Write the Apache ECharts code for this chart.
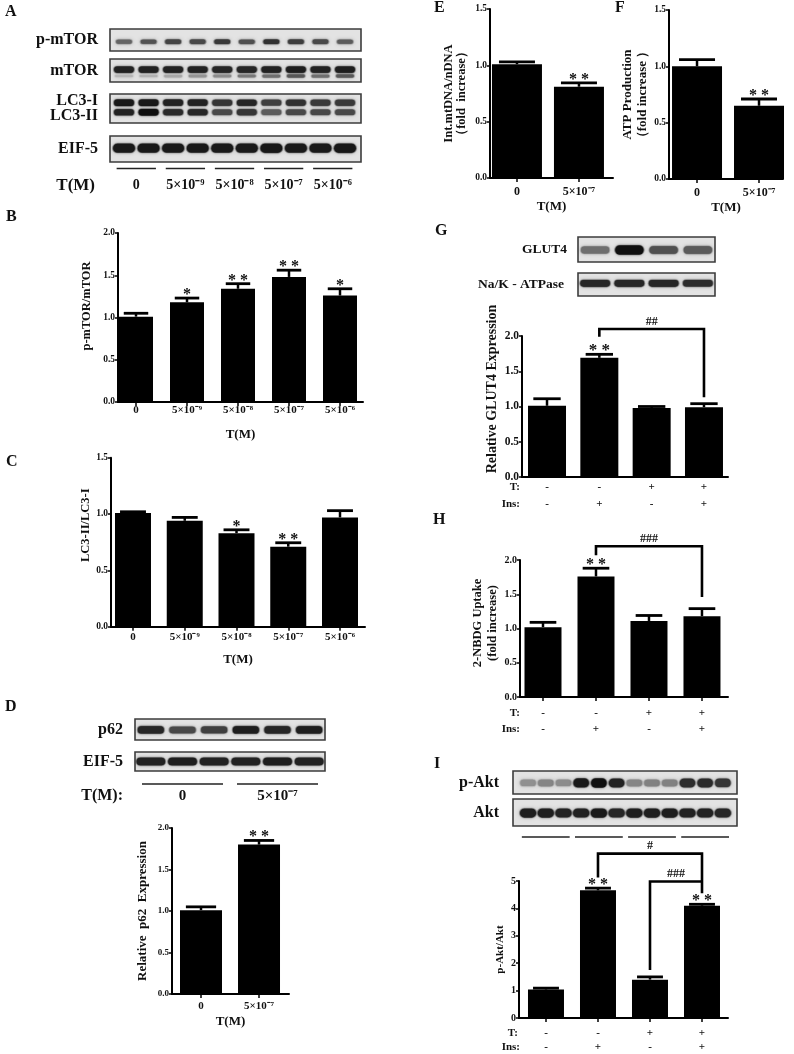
<!DOCTYPE html>
<html><head><meta charset="utf-8">
<script src="https://cdn.jsdelivr.net/npm/echarts@6/dist/echarts.min.js"></script>
<style>html,body{margin:0;padding:0;background:#fff}#c{width:794px;height:1054px}</style>
</head><body><div id="c"></div>
<script>
const FONT = "'Liberation Serif','Times New Roman',serif";
const INK = '#111';

// ---------- data ----------
const doseLabels = ['0','5×10⁻⁹','5×10⁻⁸','5×10⁻⁷','5×10⁻⁶'];
const twoDoseLabels = ['0','5×10⁻⁷'];
const pmtorMean = [1.01,1.18,1.34,1.48,1.26];
const pmtorSem  = [0.04,0.05,0.06,0.08,0.08];
const pmtorSig  = ['','*','**','**','*'];
const lc3Mean = [1.01,0.94,0.83,0.71,0.97];
const lc3Sem  = [0.01,0.03,0.03,0.035,0.06];
const lc3Sig  = ['','','*','**',''];
const p62Mean = [1.01,1.80];
const p62Sem  = [0.04,0.05];
const p62Sig  = ['','**'];
const mtdnaMean = [1.01,0.81];
const mtdnaSem  = [0.02,0.035];
const mtdnaSig  = ['','**'];
const atpMean = [1.00,0.65];
const atpSem  = [0.06,0.06];
const atpSig  = ['','**'];
const tRow   = ['-','-','+','+'];
const insRow = ['-','+','-','+'];
const glut4Mean = [1.01,1.69,0.98,0.99];
const glut4Sem  = [0.10,0.05,0.02,0.05];
const glut4Sig  = ['','**','',''];
const nbdgMean = [1.02,1.76,1.11,1.18];
const nbdgSem  = [0.07,0.12,0.08,0.11];
const nbdgSig  = ['','**','',''];
const aktMean = [1.04,4.66,1.40,4.10];
const aktSem  = [0.05,0.08,0.10,0.05];
const aktSig  = ['','**','','**'];
// brackets: [fromIndex, toIndex, yTop, yLeftEnd, yRightEnd]
const glut4Brackets = [[1,3,2.10,1.99,1.13]];
const glut4BracketLabels = ['##'];
const nbdgBrackets = [[1,3,2.20,2.07,1.46]];
const nbdgBracketLabels = ['###'];
const aktBrackets = [[1,3,6.0,5.13,4.55],[2,3,4.98,1.75,4.98]];
const aktBracketLabels = ['#','###'];
// blot band intensities (0..1) per lane
const pmtorBands   = [0.55,0.65,0.72,0.70,0.78,0.66,0.82,0.76,0.70,0.60];
const mtorBands    = [0.90,0.90,0.90,0.90,0.88,0.88,0.90,0.92,0.90,0.92];
const mtorLowBands = [0.12,0.15,0.20,0.30,0.35,0.45,0.50,0.62,0.50,0.62];
const lc3iBands    = [0.95,0.95,0.90,0.90,0.80,0.88,0.75,0.82,0.78,0.78];
const lc3iiBands   = [0.90,1.00,0.86,0.88,0.70,0.80,0.60,0.70,0.70,0.70];
const eif5aBands   = [0.95,0.95,0.95,0.95,0.94,0.94,0.96,0.95,0.95,0.96];
const p62Bands     = [0.88,0.70,0.75,0.92,0.88,0.92];
const eif5dBands   = [0.90,0.92,0.90,0.90,0.92,0.90];
const glut4Bands   = [0.50,1.00,0.66,0.60];
const nakBands     = [0.88,0.88,0.88,0.85];
const pAktBands    = [0.32,0.38,0.34,0.95,1.00,0.90,0.38,0.40,0.40,0.85,0.86,0.80];
const aktBands     = [0.92,0.92,0.90,0.90,0.94,0.88,0.92,0.92,0.92,0.90,0.90,0.88];

// ---------- builders ----------
const grids=[], xAxis=[], yAxis=[], series=[], graphic=[];
function newGrid(g, xa, ya){
  grids.push(g); const i = grids.length-1;
  xa.gridIndex = i; ya.gridIndex = i; xAxis.push(xa); yAxis.push(ya); return i;
}
const fnt = (w,s)=> w+' '+s+'px '+FONT;

function blot(box, lanes, labels, rows, labelSize, labelMargin){
  const gi = newGrid({left:box[0], top:box[1], width:box[2], height:box[3], show:true,
      backgroundColor:'#e3e3e3', borderColor:'#3c3c3c', borderWidth:1.6},
    {type:'value', min:lanes[0], max:lanes[1], show:false},
    {type:'category', data:labels, axisLine:{show:false}, axisTick:{show:false}, splitLine:{show:false},
      axisLabel:{interval:0, margin:labelMargin, color:INK, fontFamily:FONT, fontWeight:'bold', fontSize:labelSize}});
  rows.forEach(r=>{
    series.push({type:'custom', xAxisIndex:gi, yAxisIndex:gi, silent:true, clip:false, encode:{x:0,y:1},
      data: r.values.map((v,i)=>[i,0,v]),
      renderItem(params, api){
        const cs = params.coordSys;
        const x = api.coord([api.value(0),0])[0];
        const v = api.value(2);
        const lw = api.size([1,0])[0];
        const w = lw*r.wf, h = r.h*(0.55+0.45*v);
        const y = cs.y + cs.height*r.frac;
        const g = Math.round(205-190*v);
        const c = 'rgb('+g+','+g+','+g+')';
        return {type:'group', children:[
          {type:'rect', shape:{x:x-w/2-1, y:y-h/2-0.5, width:w+2, height:h+1, r:(h+1)/2},
            style:{fill:'rgba('+g+','+g+','+g+',0.35)', shadowBlur:4, shadowColor:'rgba(60,60,60,0.5)'}},
          {type:'rect', shape:{x:x-w/2, y:y-h/2, width:w, height:h, r:h/2},
            style:{fill:c, shadowBlur:2, shadowColor:c}}
        ]};
      }});
  });
}

function laneGroups(box, lanes, perGroup, groups, groupLabels, rowLabel, fontSize, rowFont, labelMargin, ext){
  const cats = groupLabels ? ['', rowLabel] : [''];
  const gi = newGrid({left:box[0], top:box[1], width:box[2], height:box[3]},
    {type:'value', min:lanes[0], max:lanes[1], show:false},
    {type:'category', inverse:true, data:cats, axisLine:{show:false}, axisTick:{show:false}, splitLine:{show:false},
      axisLabel:{interval:0, margin:labelMargin, color:INK, fontFamily:FONT, fontWeight:'bold', fontSize:rowFont}});
  series.push({type:'custom', xAxisIndex:gi, yAxisIndex:gi, silent:true, clip:false, encode:{x:0,y:1},
    data: groups.map((g,i)=>[i,0]),
    renderItem(params, api){
      const k = api.value(0);
      const a = k*perGroup-ext, b = k*perGroup+perGroup-1+ext;
      const p1 = api.coord([a,0]), p2 = api.coord([b,0]);
      const ch = [{type:'line', shape:{x1:p1[0],y1:p1[1],x2:p2[0],y2:p2[1]}, style:{stroke:'#222', lineWidth:1.3}}];
      if (groupLabels){
        const pc = api.coord([k*perGroup+(perGroup-1)/2, 1]);
        ch.push({type:'text', style:{text:groupLabels[k], x:pc[0], y:pc[1], align:'center', verticalAlign:'middle',
          textAlign:'center', textVerticalAlign:'middle', font:fnt('bold',fontSize), fill:INK}});
      }
      return {type:'group', children:ch};
    }});
}

function barPanel(o){
  const idx = o.mean.map((m,i)=>i);
  const gi = newGrid({left:o.L, top:o.T, width:o.R-o.L, height:o.B-o.T},
    {type:'value', min:o.xmin, max:o.xmax, splitLine:{show:false},
      axisLine:{show:true, onZero:false, lineStyle:{color:'#000', width:2}},
      axisTick:{show:o.xTicks!==false, customValues:idx, length:4, lineStyle:{color:'#000', width:1.5}},
      axisLabel:{customValues:idx, formatter:o.xfmt, margin:o.xMargin, fontFamily:FONT, fontWeight:'bold',
        fontSize:o.xFont, color:INK, lineHeight:o.xLineH||undefined},
      name:o.xName||'', nameLocation:'middle', nameGap:o.xNameGap||20,
      nameTextStyle:{fontFamily:FONT, fontWeight:'bold', fontSize:o.xNameSize||13, color:INK}},
    {type:'value', min:0, max:o.ymax, interval:o.yint, splitLine:{show:false},
      axisLine:{show:true, onZero:false, lineStyle:{color:'#000', width:2}},
      axisTick:{show:true, length:3, lineStyle:{color:'#000', width:1.5}},
      axisLabel:{formatter:o.yfmt, margin:3, fontFamily:FONT, fontWeight:'bold', fontSize:o.yFont, color:INK},
      name:o.yName, nameLocation:'middle', nameRotate:90, nameGap:o.yNameGap,
      nameTextStyle:{fontFamily:FONT, fontWeight:'bold', fontSize:o.yNameSize, color:INK,
        lineHeight:o.yNameLH||undefined, padding:[0,0,0,o.yNamePad||0]}});
  series.push({type:'bar', xAxisIndex:gi, yAxisIndex:gi, silent:true, barWidth:o.barW,
    data:o.mean.map((m,i)=>[i,m]), itemStyle:{color:'#000'}, z:2});
  const capW = o.barW*0.72, starSize = o.starSize||16;
  series.push({type:'custom', xAxisIndex:gi, yAxisIndex:gi, silent:true, clip:false, z:3,
    data:o.mean.map((m,i)=>[i,m,m+o.sem[i]]),
    renderItem(params, api){
      const p0 = api.coord([api.value(0), api.value(1)]), p1 = api.coord([api.value(0), api.value(2)]);
      const ch = [
        {type:'line', shape:{x1:p0[0],y1:p0[1],x2:p1[0],y2:p1[1]}, style:{stroke:'#000', lineWidth:2.5}},
        {type:'line', shape:{x1:p1[0]-capW/2,y1:p1[1],x2:p1[0]+capW/2,y2:p1[1]}, style:{stroke:'#000', lineWidth:2.8}}
      ];
      const s = o.sig[params.dataIndex];
      if (s) ch.push({type:'text', style:{text:s.split('').join(' '), x:p1[0], y:p1[1]+0.3*starSize,
        align:'center', verticalAlign:'bottom', textAlign:'center', textVerticalAlign:'bottom',
        font:fnt('bold',starSize), fill:INK}});
      return {type:'group', children:ch};
    }});
  if (o.brackets){
    series.push({type:'custom', xAxisIndex:gi, yAxisIndex:gi, silent:true, clip:false, z:4,
      data:o.brackets,
      renderItem(params, api){
        const a=api.value(0), b=api.value(1), top=api.value(2), le=api.value(3), re=api.value(4);
        const pTL=api.coord([a,top]), pTR=api.coord([b,top]), pL=api.coord([a,le]), pR=api.coord([b,re]);
        return {type:'group', children:[
          {type:'polyline', shape:{points:[pL,pTL,pTR,pR]}, style:{stroke:'#000', lineWidth:2.6, fill:null}},
          {type:'text', style:{text:o.bracketLabels[params.dataIndex], x:(pTL[0]+pTR[0])/2, y:pTL[1]-1.5,
            align:'center', verticalAlign:'bottom', textAlign:'center', textVerticalAlign:'bottom',
            font:fnt('bold',12), fill:INK}}
        ]};
      }});
  }
}
const f1 = v=>v.toFixed(1);
const f0 = v=>String(Math.round(v));
const doseFmt = v=>doseLabels[Math.round(v)];
const twoFmt = v=>twoDoseLabels[Math.round(v)];
const trtFmt = v=>tRow[Math.round(v)]+'\n'+insRow[Math.round(v)];

// ---------- panel A ----------
const laneA = [-0.57, 9.65];
blot([110,29,251,22], laneA, ['p-mTOR'], [{values:pmtorBands, frac:0.58, h:5, wf:0.64}], 16, 12);
blot([110,59,251,23], laneA, ['mTOR'], [{values:mtorBands, frac:0.46, h:6.5, wf:0.8},{values:mtorLowBands, frac:0.74, h:3.5, wf:0.72}], 16, 12);
blot([110,94,251,29], laneA, ['LC3-II','LC3-I'], [{values:lc3iBands, frac:0.3, h:6.5, wf:0.8},{values:lc3iiBands, frac:0.63, h:6.5, wf:0.8}], 16, 12);
blot([110,136,251,26], laneA, ['EIF-5'], [{values:eif5aBands, frac:0.47, h:9, wf:0.88}], 16, 12);
laneGroups([110,160,251,34], laneA, 2, doseLabels, doseLabels, 'T(M)', 14, 17, 15, 0.3);

// ---------- panel B ----------
barPanel({L:118,R:363,T:233,B:402, xmin:-0.353, xmax:4.451, ymax:2, yint:0.5, barW:34,
  mean:pmtorMean, sem:pmtorSem, sig:pmtorSig, xfmt:doseFmt, xFont:11, xMargin:3, xName:'T(M)', xNameGap:26,
  yfmt:f1, yFont:9.5, yName:'p-mTOR/mTOR', yNameSize:12.5, yNameGap:25, yNamePad:23});
// ---------- panel C ----------
barPanel({L:111,R:365,T:457.7,B:626.7, xmin:-0.425, xmax:4.483, ymax:1.5, yint:0.5, barW:36,
  mean:lc3Mean, sem:lc3Sem, sig:lc3Sig, xfmt:doseFmt, xFont:11, xMargin:5, xName:'T(M)', xNameGap:26,
  yfmt:f1, yFont:9.5, yName:'LC3-II/LC3-I', yNameSize:12.5, yNameGap:14, yNamePad:34});
// ---------- panel D ----------
const laneD = [-0.5, 5.5];
blot([135,719,190,21], laneD, ['p62'], [{values:p62Bands, frac:0.52, h:7.5, wf:0.82}], 16, 12);
blot([135,752,190,19], laneD, ['EIF-5'], [{values:eif5dBands, frac:0.5, h:8, wf:0.9}], 16, 12);
laneGroups([135,778,190,24], laneD, 3, twoDoseLabels, twoDoseLabels, 'T(M):', 15, 16, 12, 0.28);
barPanel({L:172,R:289,T:828,B:994, xmin:-0.5, xmax:1.517, ymax:2, yint:0.5, barW:42,
  mean:p62Mean, sem:p62Sem, sig:p62Sig, xfmt:twoFmt, xFont:11, xMargin:7, xName:'T(M)', xNameGap:21,
  yfmt:f1, yFont:9, yName:'Relative  p62  Expression', yNameSize:13, yNameGap:23});
// ---------- panel E ----------
barPanel({L:490,R:613,T:9,B:178, xmin:-0.435, xmax:1.549, ymax:1.5, yint:0.5, barW:50,
  mean:mtdnaMean, sem:mtdnaSem, sig:mtdnaSig, xfmt:twoFmt, xFont:12, xMargin:8, xName:'T(M)', xNameGap:22,
  yfmt:f1, yFont:9.5, yName:'Int.mtDNA/nDNA\n（fold  increase）', yNameSize:12.5, yNameLH:13, yNameGap:22});
// ---------- panel F ----------
barPanel({L:669,R:783,T:10,B:179, xmin:-0.452, xmax:1.387, ymax:1.5, yint:0.5, barW:50,
  mean:atpMean, sem:atpSem, sig:atpSig, xfmt:twoFmt, xFont:12, xMargin:8, xName:'T(M)', xNameGap:22,
  yfmt:f1, yFont:9.5, yName:'ATP Production\n（fold increase ）', yNameSize:13, yNameLH:15, yNameGap:13});
// ---------- panel G ----------
const laneG = [-0.5, 3.5];
blot([578,237,137,25], laneG, ['GLUT4'], [{values:glut4Bands, frac:0.52, h:9, wf:0.82}], 13.5, 11);
blot([578,273,137,23], laneG, ['Na/K - ATPase'], [{values:nakBands, frac:0.45, h:7, wf:0.86}], 13.5, 14);
barPanel({L:522,R:728,T:336,B:477, xmin:-0.478, xmax:3.459, ymax:2, yint:0.5, barW:38,
  mean:glut4Mean, sem:glut4Sem, sig:glut4Sig, xfmt:trtFmt, xFont:11, xLineH:17, xMargin:2, xTicks:false,
  yfmt:f1, yFont:11.5, yName:'Relative GLUT4 Expression', yNameSize:14, yNameGap:23, yNamePad:35,
  brackets:glut4Brackets, bracketLabels:glut4BracketLabels, starSize:17});
// ---------- panel H ----------
barPanel({L:520,R:728,T:560,B:697, xmin:-0.434, xmax:3.491, ymax:2, yint:0.5, barW:37,
  mean:nbdgMean, sem:nbdgSem, sig:nbdgSig, xfmt:trtFmt, xFont:11, xLineH:16, xMargin:8,
  yfmt:f1, yFont:10, yName:'2-NBDG Uptake\n(fold increase)', yNameSize:12.5, yNameLH:15, yNameGap:19, yNamePad:11,
  brackets:nbdgBrackets, bracketLabels:nbdgBracketLabels});
// ---------- panel I ----------
const laneI = [-0.85, 11.8];
blot([513,771,224,23], laneI, ['p-Akt'], [{values:pAktBands, frac:0.52, h:9, wf:0.86}], 16, 14);
blot([513,799,224,27], laneI, ['Akt'], [{values:aktBands, frac:0.52, h:9, wf:0.9}], 16, 14);
laneGroups([513,832,224,10], laneI, 3, tRow, null, '', 11, 11, 10, 0.35);
barPanel({L:519,R:728,T:881,B:1018, xmin:-0.519, xmax:3.5, ymax:5, yint:1, barW:36,
  mean:aktMean, sem:aktSem, sig:aktSig, xfmt:trtFmt, xFont:11, xLineH:14, xMargin:8,
  yfmt:f0, yFont:10, yName:'p-Akt/Akt', yNameSize:11, yNameGap:13,
  brackets:aktBrackets, bracketLabels:aktBracketLabels});

// ---------- free text ----------
function txt(t, x, y, size, align){
  graphic.push({type:'text', x:x, y:y, silent:true, style:{text:t, font:fnt('bold',size), fill:INK,
    textAlign:align||'left', textVerticalAlign:'middle', align:align||'left', verticalAlign:'middle'}});
}
[['A',5,12],['B',6,217],['C',6,462],['D',5,707],['E',434,8],['F',615,8],['G',435,231],['H',433,520],['I',434,764]]
  .forEach(p=>txt(p[0],p[1],p[2],16));
txt('T:',520,487,11,'right'); txt('Ins:',520,504,11,'right');
txt('T:',520,713,11,'right'); txt('Ins:',520,729,11,'right');
txt('T:',518,1033,11,'right'); txt('Ins:',520,1047,11,'right');

const chart = echarts.init(document.getElementById('c'), null, {renderer:'canvas'});
chart.setOption({animation:false, backgroundColor:'#fff', textStyle:{fontFamily:FONT},
  grid:grids, xAxis:xAxis, yAxis:yAxis, series:series, graphic:graphic});
</script></body></html>
